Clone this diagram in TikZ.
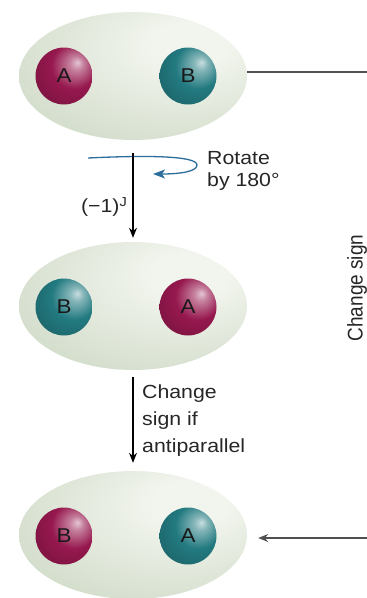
\documentclass[tikz,border=0pt]{standalone}
\usepackage{fontspec}
\setmainfont{Liberation Sans}[FakeStretch=1.12]
\newfontfamily\plainsans{Liberation Sans}
\usetikzlibrary{positioning, shapes.geometric, arrows.meta}

\definecolor{capsule}{RGB}{190,205,180}
\definecolor{capsulelight}{RGB}{242,245,238}
\definecolor{plum}{RGB}{150,24,78}
\definecolor{tealatom}{RGB}{34,122,128}
\definecolor{spinblue}{RGB}{44,110,155}
\definecolor{linegray}{RGB}{80,80,80}

\pgfdeclareradialshading{capsuleshade}{\pgfpoint{14bp}{14bp}}{color(0bp)=(capsulelight); color(8bp)=(capsulelight); color(35bp)=(capsule!55!capsulelight); color(58bp)=(capsule); color(80bp)=(capsule)}
\pgfdeclareradialshading{plumshade}{\pgfpoint{12bp}{12bp}}{color(0bp)=(plum!25!white); color(6bp)=(plum!55!white); color(20bp)=(plum); color(38bp)=(plum!82!black); color(52bp)=(plum!62!black); color(75bp)=(plum!62!black)}
\pgfdeclareradialshading{tealshade}{\pgfpoint{12bp}{12bp}}{color(0bp)=(tealatom!25!white); color(6bp)=(tealatom!55!white); color(20bp)=(tealatom); color(38bp)=(tealatom!82!black); color(52bp)=(tealatom!62!black); color(75bp)=(tealatom!62!black)}

\tikzset{
    capsule/.style={ellipse, minimum width=228pt, minimum height=128pt, inner sep=0pt, shade, shading=capsuleshade},
    atom/.style={circle, minimum size=57pt, inner sep=0pt, text=black!90, font=\fontsize{20}{20}\selectfont},
    plumatom/.style={atom, shade, shading=plumshade},
    tealatom/.style={atom, shade, shading=tealshade},
    step arrow/.style={line width=1.2pt, -{Stealth[length=10pt, width=8pt]}},
    side line/.style={line width=1.3pt, linegray},
    label text/.style={inner sep=0pt, align=left, text=black!85, font=\fontsize{19}{22.4}\selectfont},
}

\begin{document}
\begin{tikzpicture}[x=1pt, y=-1pt]
    \useasboundingbox (0,0) rectangle (367,598);

    % the three molecules
    \node[capsule] (top) at (133,76) {};
    \node[capsule] (mid) at (133,306) {};
    \node[capsule] (bot) at (133,535) {};

    % atoms
    \node[plumatom] (topA) at (64,76) {A};
    \node[tealatom] (topB) at (188,76) {B};
    \node[tealatom] (midB) at (64,307) {B};
    \node[plumatom] (midA) at (188,307) {A};
    \node[plumatom] (botB) at (64,536) {B};
    \node[tealatom] (botA) at (188,536) {A};

    % rotation about the vertical axis
    \draw[spinblue, line width=1.3pt, -{Stealth[length=12pt, width=9pt, inset=3pt]}]
        (88,158) .. controls (150,155) and (197,156) .. (197,165)
        .. controls (197,172) and (178,174) .. (153,174);
    \draw[step arrow, shorten <=13pt, shorten >=4pt] (top) -- (mid);
    \node[label text, anchor=north west] (rotlbl) at (207,151) {Rotate\\by 180°};
    \node[label text, anchor=base east] (phase) at (127,212)
        {(−1)\raisebox{6pt}{\fontsize{13}{13}\selectfont J}};

    % exchange of spins
    \draw[step arrow, shorten <=7pt, shorten >=8pt] (mid) -- (bot);
    \node[label text, anchor=north west, font=\fontsize{19}{27}\selectfont] (signlbl) at (142,385)
        {Change\\sign if\\antiparallel};

    % direct route on the right
    \coordinate (rt1) at (367,72);
    \coordinate (rt3) at (367,538);
    \draw[side line] (rt1) -- (rt1 -| top.east);
    \draw[side line, -{Stealth[length=10pt, width=8pt]}, shorten >=11pt] (rt3) -- (rt3 -| bot.east);
    \node[label text, rotate=90] (sidelbl) at (357,288) {\scalebox{1}[1.12]{\plainsans Change sign}};

\end{tikzpicture}
\end{document}
